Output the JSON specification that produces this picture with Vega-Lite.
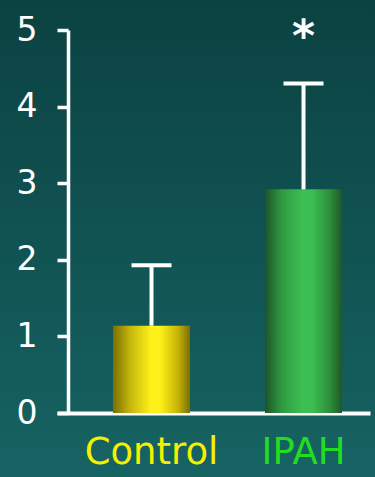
{
  "$schema": "https://vega.github.io/schema/vega-lite/v6.json",
  "width": 375,
  "height": 477,
  "autosize": {"type": "none"},
  "padding": 0,
  "background": "#125252",
  "view": {
    "stroke": null,
    "fill": {
      "gradient": "linear",
      "x1": 0, "y1": 0, "x2": 0, "y2": 1,
      "stops": [
        {"offset": 0, "color": "#0b4242"},
        {"offset": 1, "color": "#176363"}
      ]
    }
  },
  "data": {
    "values": [
      {"group": "Control", "mean": 1.14, "upper": 1.93, "sig": ""},
      {"group": "IPAH", "mean": 2.92, "upper": 4.3, "sig": "*"}
    ]
  },
  "encoding": {
    "x": {
      "field": "group",
      "type": "nominal",
      "sort": ["Control", "IPAH"],
      "scale": {"range": [57, 370], "paddingInner": 0.493, "paddingOuter": 0.276, "align": 0.667},
      "axis": {
        "orient": "bottom",
        "offset": -64,
        "title": null,
        "labelAngle": 0,
        "ticks": false,
        "tickSize": 0,
        "domainColor": "white",
        "domainWidth": 4,
        "labelFont": "DejaVu Sans",
        "labelFontSize": 37,
        "labelPadding": 21,
        "labelColor": {
          "condition": {"test": "datum.value === 'Control'", "value": "#f5f000"},
          "value": "#22dd22"
        }
      }
    }
  },
  "layer": [
    {
      "transform": [{"filter": "datum.group === 'Control'"}],
      "mark": {
        "type": "bar",
        "fill": {
          "gradient": "linear",
          "x1": 0, "y1": 0, "x2": 1, "y2": 0,
          "stops": [
            {"offset": 0, "color": "#7a6e00"},
            {"offset": 0.22, "color": "#c4b60c"},
            {"offset": 0.5, "color": "#fff21a"},
            {"offset": 0.62, "color": "#fdef18"},
            {"offset": 0.85, "color": "#c2b208"},
            {"offset": 1, "color": "#7a6d00"}
          ]
        }
      },
      "encoding": {
        "y": {
          "field": "mean",
          "type": "quantitative",
          "scale": {"domain": [0, 5], "nice": false, "zero": true, "range": [413, 30]},
          "axis": {
            "orient": "left",
            "offset": -68,
            "title": null,
            "grid": false,
            "values": [0, 1, 2, 3, 4, 5],
            "format": "d",
            "tickSize": 11,
            "tickWidth": 3.5,
            "tickColor": "white",
            "domainColor": "white",
            "domainWidth": 3.5,
            "labelColor": "white",
            "labelFont": "DejaVu Sans",
            "labelFontSize": 33,
            "labelPadding": 20
          }
        }
      }
    },
    {
      "transform": [{"filter": "datum.group === 'IPAH'"}],
      "mark": {
        "type": "bar",
        "fill": {
          "gradient": "linear",
          "x1": 0, "y1": 0, "x2": 1, "y2": 0,
          "stops": [
            {"offset": 0, "color": "#1e5428"},
            {"offset": 0.22, "color": "#2f9a42"},
            {"offset": 0.48, "color": "#3dbf53"},
            {"offset": 0.62, "color": "#3bbd50"},
            {"offset": 0.85, "color": "#2c8c3a"},
            {"offset": 1, "color": "#1f5727"}
          ]
        }
      },
      "encoding": {
        "y": {"field": "mean", "type": "quantitative"}
      }
    },
    {
      "mark": {"type": "rule", "color": "white", "strokeWidth": 4},
      "encoding": {
        "y": {"field": "mean", "type": "quantitative"},
        "y2": {"field": "upper"}
      }
    },
    {
      "mark": {"type": "tick", "color": "white", "size": 40, "thickness": 4, "opacity": 1},
      "encoding": {
        "y": {"field": "upper", "type": "quantitative"}
      }
    },
    {
      "transform": [{"filter": "datum.sig !== ''"}],
      "mark": {"type": "text", "color": "white", "font": "DejaVu Sans", "fontSize": 44, "fontWeight": "bold", "dy": -33, "baseline": "alphabetic"},
      "encoding": {
        "y": {"field": "upper", "type": "quantitative"},
        "text": {"field": "sig"}
      }
    }
  ]
}
